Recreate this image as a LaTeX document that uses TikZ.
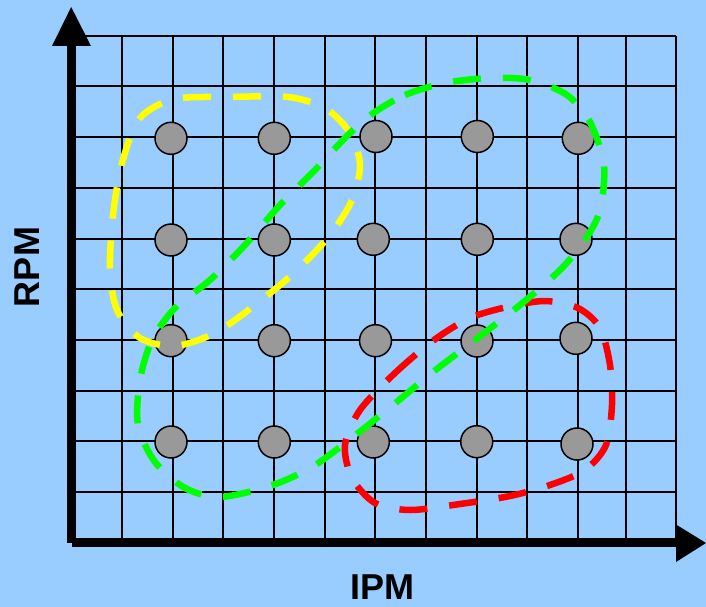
\documentclass[tikz,border=0pt]{standalone}
\usepackage{fontspec}
\setmainfont{Liberation Sans}
\definecolor{bgblue}{HTML}{99CCFF}
\definecolor{dotgray}{HTML}{999999}
\definecolor{yel}{HTML}{FFFF00}
\definecolor{grn}{HTML}{00FF00}
\definecolor{rd}{HTML}{FF0000}
\tikzset{
  gridline/.style={black, line width=2pt},
  axisline/.style={black, line width=9pt},
  dot/.style={circle, draw=black, line width=1.5pt, fill=dotgray, minimum size=32pt, inner sep=0pt},
  loopline/.style={line width=6.5pt, dash pattern=on 28pt off 22pt},
  axislabel/.style={font=\fontsize{36}{40}\selectfont\bfseries, inner sep=0pt}
}
\begin{document}
\begin{tikzpicture}[x=1pt,y=-1pt]
\fill[bgblue] (0,0) rectangle (706,607);
\useasboundingbox (0,0) rectangle (706,607);
% grid
\foreach \gx in {122.3,173.3,223.3,274.3,325,375,426,476.7,527.3,578,626,676}
  \draw[gridline] (\gx,35.7) -- (\gx,543);
\foreach \gy in {35.7,86.5,137.2,187.9,238.6,289.3,340,390.7,441.4,492.1}
  \draw[gridline] (72,\gy) -- (676,\gy);
% axes
\coordinate (org) at (71.2,542.8);
\coordinate (ytop) at (71.2,44);
\coordinate (xorg) at (71.7,542.8);
\coordinate (xend) at (677,542.8);
\draw[axisline] (org) -- (ytop);
\draw[axisline] (xorg) -- (xend);
\fill[black] (71.2,7) -- (52,46) -- (91,46) -- cycle;
\fill[black] (706,543) -- (676,524.5) -- (676,562) -- cycle;
% dots
\node[dot] (c11) at (171,138.3) {};
\node[dot] (c12) at (274.3,138.3) {};
\node[dot] (c13) at (376,136.5) {};
\node[dot] (c14) at (477.3,136.5) {};
\node[dot] (c15) at (578.3,138.3) {};
\node[dot] (c21) at (171,240) {};
\node[dot] (c22) at (274.3,240) {};
\node[dot] (c23) at (373.3,239.3) {};
\node[dot] (c24) at (477.3,239.3) {};
\node[dot] (c25) at (576,239.3) {};
\node[dot] (c31) at (171,340.7) {};
\node[dot] (c32) at (274.3,340.7) {};
\node[dot] (c33) at (375.5,340.7) {};
\node[dot] (c34) at (477,341) {};
\node[dot] (c35) at (576,338.3) {};
\node[dot] (c41) at (171,442) {};
\node[dot] (c42) at (274.3,442) {};
\node[dot] (c43) at (373.3,442) {};
\node[dot] (c44) at (476.7,441.7) {};
\node[dot] (c45) at (577,444) {};
% loops
\draw[loopline, yel] plot[smooth cycle] coordinates {
  (110,270) (113,215) (122,163) (140,118) (175,99) (230,97) (288,97) (325,108)
  (350,133) (360,165) (352,200) (330,235) (295,272) (255,305) (215,333)
  (175,346) (140,338) (117,310)};
\draw[loopline, rd] plot[smooth cycle] coordinates {
  (360,410) (395,373) (434,340) (470,318) (507,307) (545,301) (578,308)
  (600,328) (610,365) (612,405) (606,445) (585,470) (550,485) (510,496)
  (460,504) (410,510) (375,503) (352,478) (345,445)};
\draw[loopline, grn] plot[smooth cycle] coordinates {
  (372,114) (405,95) (445,83) (490,78) (530,80) (567,95) (590,122) (604,165)
  (600,210) (585,240) (560,270) (520,305) (475,340) (433,372) (393,405)
  (353,437) (312,467) (270,486) (220,497) (185,488) (155,462) (138,425)
  (140,380) (152,340) (175,308) (210,280) (245,245) (280,205) (315,170) (345,138)};
% labels
\node[axislabel, rotate=90] (rpm) at (27,267) {RPM};
\node[axislabel, anchor=base] (ipm) at (382.5,599) {IPM};
\end{tikzpicture}
\end{document}
